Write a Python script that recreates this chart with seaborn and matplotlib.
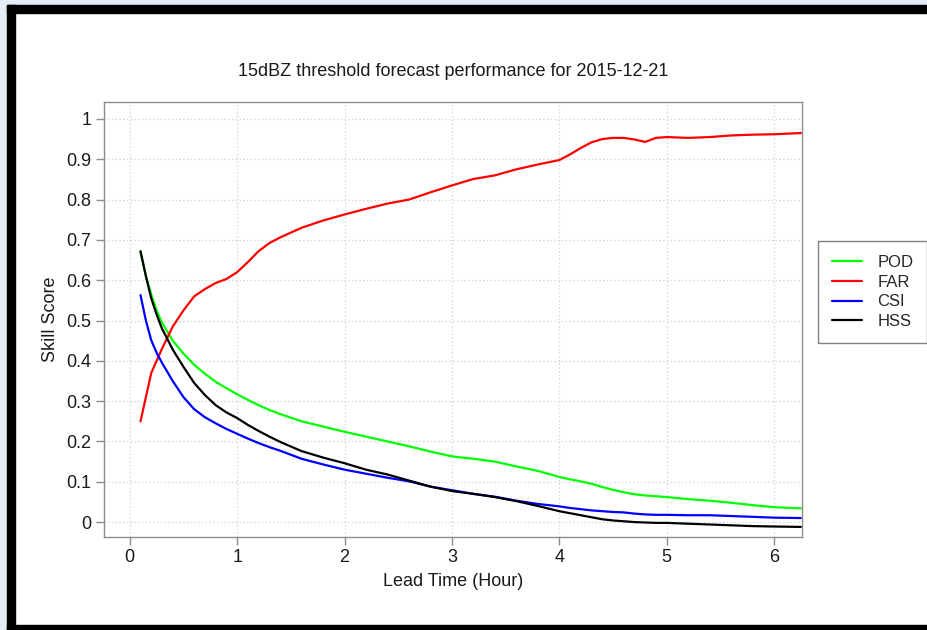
import pandas as pd
import matplotlib.pyplot as plt
import seaborn as sns
from matplotlib.patches import Rectangle

# Lead time (hours) and skill scores
lead_time = [0.1, 0.15, 0.2, 0.25, 0.3, 0.4, 0.5, 0.6, 0.7, 0.8, 0.9, 1.0, 1.1, 1.2, 1.3, 1.4,
             1.6, 1.8, 2.0, 2.2, 2.4, 2.6, 2.8, 3.0, 3.2, 3.4, 3.6, 3.8, 4.0, 4.1, 4.2, 4.3,
             4.4, 4.5, 4.6, 4.7, 4.8, 4.9, 5.0, 5.2, 5.4, 5.6, 5.8, 6.0, 6.25]

pod = [0.67, 0.61, 0.565, 0.525, 0.495, 0.45, 0.418, 0.39, 0.368, 0.348, 0.332, 0.317, 0.303,
       0.29, 0.278, 0.268, 0.25, 0.237, 0.224, 0.212, 0.2, 0.188, 0.175, 0.163, 0.157, 0.15,
       0.138, 0.127, 0.112, 0.106, 0.101, 0.095, 0.087, 0.08, 0.074, 0.069, 0.066, 0.064,
       0.062, 0.057, 0.053, 0.048, 0.042, 0.037, 0.034]

far = [0.25, 0.31, 0.37, 0.40, 0.43, 0.485, 0.525, 0.56, 0.578, 0.593, 0.603, 0.62, 0.645,
       0.672, 0.692, 0.706, 0.73, 0.748, 0.763, 0.777, 0.79, 0.80, 0.818, 0.835, 0.851, 0.86,
       0.875, 0.887, 0.898, 0.912, 0.928, 0.942, 0.95, 0.953, 0.953, 0.949, 0.943, 0.953,
       0.955, 0.953, 0.955, 0.959, 0.961, 0.962, 0.965]

csi = [0.563, 0.50, 0.451, 0.42, 0.395, 0.35, 0.31, 0.28, 0.26, 0.245, 0.231, 0.219, 0.207,
       0.196, 0.186, 0.177, 0.157, 0.143, 0.13, 0.12, 0.11, 0.101, 0.088, 0.079, 0.07, 0.063,
       0.053, 0.045, 0.039, 0.035, 0.032, 0.029, 0.027, 0.025, 0.024, 0.021, 0.019, 0.018,
       0.018, 0.017, 0.017, 0.015, 0.013, 0.011, 0.01]

hss = [0.672, 0.61, 0.555, 0.515, 0.48, 0.428, 0.385, 0.345, 0.315, 0.29, 0.272, 0.258, 0.241,
       0.226, 0.212, 0.199, 0.176, 0.16, 0.146, 0.13, 0.118, 0.103, 0.088, 0.077, 0.07, 0.062,
       0.052, 0.04, 0.027, 0.022, 0.017, 0.012, 0.007, 0.004, 0.002, 0.0, -0.001, -0.002,
       -0.002, -0.004, -0.006, -0.008, -0.01, -0.011, -0.012]

scores = ['POD', 'FAR', 'CSI', 'HSS']
colors = ['#00ff00', '#ff0000', '#0000ff', '#000000']
x_ticks = [0, 1, 2, 3, 4, 5, 6]
y_ticks = [0, 0.1, 0.2, 0.3, 0.4, 0.5, 0.6, 0.7, 0.8, 0.9, 1]
y_tick_labels = ['0', '0.1', '0.2', '0.3', '0.4', '0.5', '0.6', '0.7', '0.8', '0.9', '1']

# Long-form table for seaborn
frames = []
for name, vals in zip(scores, [pod, far, csi, hss]):
    frames.append(pd.DataFrame({'Lead Time': lead_time, 'Score': vals, 'Index': name}))
data = pd.concat(frames, ignore_index=True)

sns.set_style('white')
plt.rcParams['font.family'] = ['Liberation Sans', 'DejaVu Sans']

fig = plt.figure(figsize=(9.28, 6.3), dpi=100)
fig.patch.set_facecolor('white')

# Screenshot frame: pale strip and black border
fig.patches.append(Rectangle((0, 1 - 5 / 630), 1, 5 / 630, transform=fig.transFigure,
                             color='#e4edf7', zorder=0))
fig.patches.append(Rectangle((0, 0), 7 / 928, 1, transform=fig.transFigure,
                             color='#e4edf7', zorder=0))
fig.patches.append(Rectangle((7 / 928, 1 - 13 / 630), 1, 8 / 630, transform=fig.transFigure,
                             color='black', zorder=1))
fig.patches.append(Rectangle((7 / 928, 0), 8 / 928, 1 - 5 / 630, transform=fig.transFigure,
                             color='black', zorder=1))
fig.patches.append(Rectangle((7 / 928, 0), 1, 5 / 630, transform=fig.transFigure,
                             color='black', zorder=1))

ax = fig.add_axes([104 / 928, 93 / 630, 698 / 928, 435 / 630])
sns.lineplot(data=data, x='Lead Time', y='Score', hue='Index', hue_order=scores,
             palette=colors, linewidth=1.6, ax=ax)

ax.set_xlim(-0.24, 6.26)
ax.set_ylim(-0.037, 1.042)
ax.set_xticks(x_ticks)
ax.set_yticks(y_ticks)
ax.set_yticklabels(y_tick_labels)
ax.grid(True, linestyle=(0, (1, 2)), color='#d0d0d0', linewidth=0.9)
for s in ax.spines.values():
    s.set_color('#8c8c8c')
    s.set_linewidth(1.0)
ax.tick_params(axis='both', direction='out', length=6, width=1, color='#8c8c8c',
               labelsize=13, labelcolor='#1a1a1a', pad=3, left=True, bottom=True)
ax.set_xlabel('Lead Time (Hour)', fontsize=13, color='#1a1a1a', labelpad=5)
ax.set_ylabel('Skill Score', fontsize=13, color='#1a1a1a', labelpad=5)

fig.text(453 / 928, 1 - 72 / 630, '15dBZ threshold forecast performance for 2015-12-21',
         ha='center', va='center', fontsize=13, color='#1a1a1a')

handles, labels = ax.get_legend_handles_labels()
ax.get_legend().remove()
leg = fig.legend(handles, labels, loc='upper left', bbox_to_anchor=(818 / 928, 1 - 241 / 630),
                 frameon=True, fancybox=False, fontsize=12, handlelength=1.8,
                 handletextpad=0.9, labelspacing=0.28, borderpad=0.85, borderaxespad=0)
leg.get_frame().set_edgecolor('#606060')
leg.get_frame().set_linewidth(1.0)

fig.savefig('out.png', dpi=100)
